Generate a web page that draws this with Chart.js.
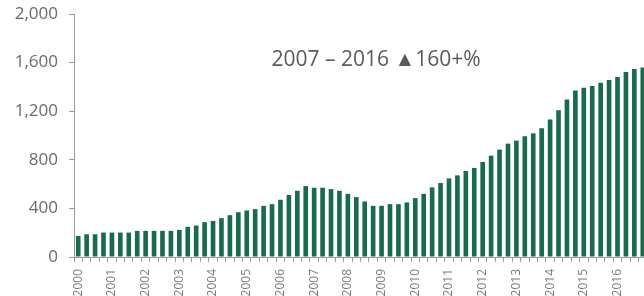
<!DOCTYPE html>
<html>
<head>
<meta charset="utf-8">
<style>
  html, body { margin: 0; padding: 0; background: #fff; overflow: hidden; }
  #wrap { width: 647px; height: 296px; }
</style>
<script src="https://cdn.jsdelivr.net/npm/chart.js@4/dist/chart.umd.min.js"></script>
</head>
<body>
<div id="wrap"><canvas id="chart-1" width="647" height="296"></canvas></div>
<script>
// 분기별 데이터 (2000 Q1 ~ 2016 Q4)
const years = ['2000', '2001', '2002', '2003', '2004', '2005', '2006', '2007', '2008',
  '2009', '2010', '2011', '2012', '2013', '2014', '2015', '2016'];
const quarters = ['Q1', 'Q2', 'Q3', 'Q4'];

const values = [
  173, 187, 187, 201,   // 2000
  201, 201, 201, 215,   // 2001
  215, 215, 215, 215,   // 2002
  223, 248, 259, 287,   // 2003
  297, 320, 344, 369,   // 2004
  383, 394, 421, 435,   // 2005
  471, 510, 545, 584,   // 2006
  570, 570, 559, 545,   // 2007
  520, 493, 457, 421,   // 2008
  421, 435, 435, 449,   // 2009
  485, 520, 573, 609,   // 2010
  647, 672, 708, 733,   // 2011
  782, 834, 884, 933,   // 2012
  958, 994, 1018, 1060, // 2013
  1132, 1208, 1297, 1371, // 2014
  1393, 1407, 1435, 1456, // 2015
  1481, 1522, 1547, 1559  // 2016
];

const yTicks = [0, 400, 800, 1200, 1600, 2000];
const note = '2007 – 2016 ▲160+%';

// 라벨 만들기
const labels = [];
years.forEach(function (y) {
  quarters.forEach(function (q) { labels.push(y + ' ' + q); });
});

// 가운데 주석 텍스트
const notePlugin = {
  id: 'note',
  afterDraw: function (chart) {
    const c = chart.ctx;
    c.save();
    c.font = '21px "Open Sans"';
    c.fillStyle = '#5a5a5a';
    c.textAlign = 'center';
    c.textBaseline = 'middle';
    c.fillText(note, 376, 60);
    c.restore();
  }
};

const ctx1 = document.getElementById('chart-1');

new Chart(ctx1, {
  type: 'bar',
  data: {
    labels: labels,
    datasets: [{
      data: values,
      backgroundColor: '#196b4e',
      barPercentage: 0.55,
      categoryPercentage: 1.0
    }]
  },
  options: {
    responsive: false,
    animation: false,
    layout: { padding: { top: 14, left: 0, right: 0, bottom: 0 } },
    plugins: {
      legend: { display: false },
      tooltip: { enabled: false }
    },
    scales: {
      x: {
        offset: true,
        afterFit: function (s) {
          s.height = 39;
          s.paddingLeft = 0;
          s.paddingRight = 0;
        },
        grid: {
          offset: true,
          drawOnChartArea: false,
          tickLength: 5,
          color: '#9a9a9a'
        },
        border: { color: '#9a9a9a' },
        ticks: {
          autoSkip: false,
          minRotation: 90,
          maxRotation: 90,
          padding: 7,
          color: '#7a7a7a',
          font: { family: 'Open Sans', size: 12 },
          callback: function (v, i) {
            return i % 4 === 0 ? years[i / 4] : '';
          }
        }
      },
      y: {
        min: yTicks[0],
        max: yTicks[yTicks.length - 1],
        afterFit: function (s) {
          s.width = 74;
          s.paddingTop = 0;
          s.paddingBottom = 0;
        },
        afterBuildTicks: function (s) {
          s.ticks = yTicks.map(function (v) { return { value: v }; });
        },
        grid: {
          drawOnChartArea: false,
          tickLength: 5,
          color: '#9a9a9a'
        },
        border: { color: '#9a9a9a' },
        ticks: {
          padding: 11,
          color: '#6a6a6a',
          font: { family: 'Open Sans', size: 17 },
          callback: function (v) { return v.toLocaleString('en-US'); }
        }
      }
    }
  },
  plugins: [notePlugin]
});
</script>
</body>
</html>
